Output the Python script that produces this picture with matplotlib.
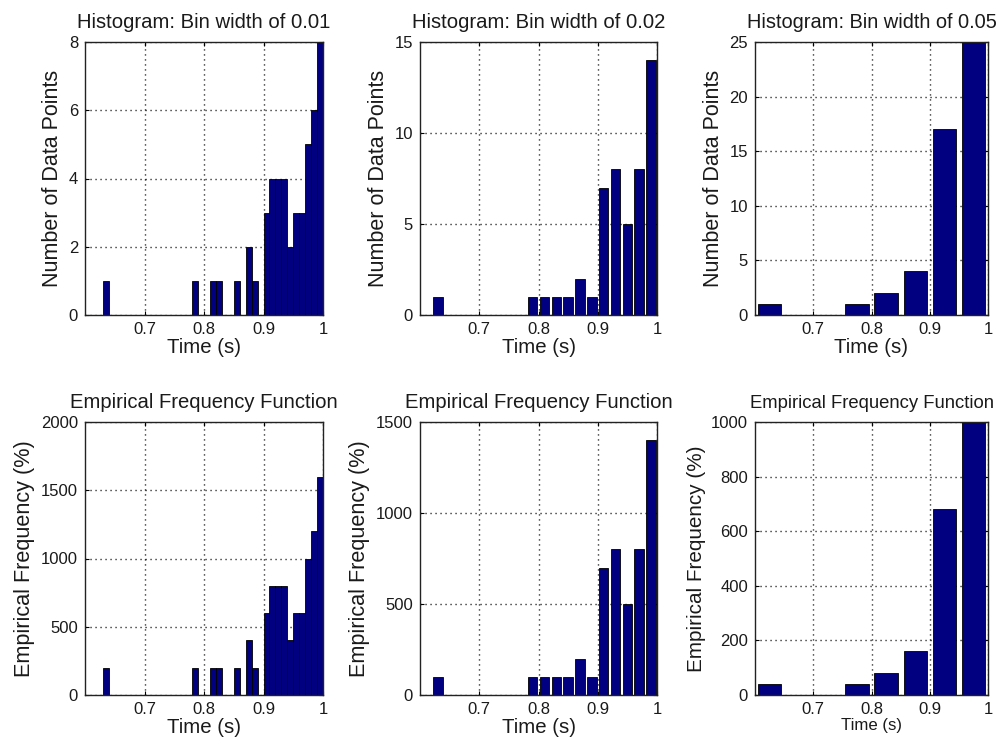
import matplotlib
matplotlib.use("Agg")
import matplotlib.pyplot as plt

plt.rcParams['font.family'] = ['Liberation Sans', 'DejaVu Sans']

# ---- data ----
centers_01 = [0.635, 0.785, 0.815, 0.825, 0.855, 0.875, 0.885, 0.905, 0.915, 0.925,
              0.935, 0.945, 0.955, 0.965, 0.975, 0.985, 0.995]
counts_01 = [1, 1, 1, 1, 1, 2, 1, 3, 4, 4, 4, 2, 3, 3, 5, 6, 8]
freq_01 = [200, 200, 200, 200, 200, 400, 200, 600, 800, 800, 800, 400, 600, 600,
           1000, 1200, 1600]

centers_02 = [0.63, 0.79, 0.81, 0.83, 0.85, 0.87, 0.89, 0.91, 0.93, 0.95, 0.97, 0.99]
counts_02 = [1, 1, 1, 1, 1, 2, 1, 7, 8, 5, 8, 14]
freq_02 = [100, 100, 100, 100, 100, 200, 100, 700, 800, 500, 800, 1400]

centers_05 = [0.625, 0.775, 0.825, 0.875, 0.925, 0.975]
counts_05 = [1, 1, 2, 4, 17, 25]
freq_05 = [40, 40, 80, 160, 680, 1000]

xticks = [0.7, 0.8, 0.9, 1.0]
xtick_labels = ['0.7', '0.8', '0.9', '1']

titles_top = ['Histogram: Bin width of 0.01', 'Histogram: Bin width of 0.02',
              'Histogram: Bin width of 0.05']
title_bottom = 'Empirical Frequency Function'

W, H = 1001, 749
fig = plt.figure(figsize=(W / 100, H / 100), dpi=100)
fig.patch.set_facecolor('white')


def make_ax(left, top, right, bottom):
    return fig.add_axes([left / W, (H - bottom) / H, (right - left) / W, (bottom - top) / H])


BAR = '#000080'
TXT = '#1a1a1a'


def style(ax, ylim, yticks, title, ylabel, tsize, lsize, ysize):
    ax.set_xlim(0.6, 1.0)
    ax.set_ylim(*ylim)
    ax.set_xticks(xticks)
    ax.set_xticklabels(xtick_labels)
    ax.set_yticks(yticks)
    ax.set_yticklabels([str(v) for v in yticks])
    ax.set_axisbelow(True)
    ax.grid(True, color='black', linestyle=(0, (0.8, 2.8)), linewidth=1.0)
    ax.tick_params(direction='in', length=3, width=0.8, top=True, right=True,
                   labelsize=12, pad=5, colors='black', labelcolor=TXT)
    for s in ax.spines.values():
        s.set_color('#222222')
        s.set_linewidth(1.0)
    ax.set_title(title, fontsize=tsize, pad=10, color=TXT)
    ax.set_xlabel('Time (s)', fontsize=lsize, labelpad=1, color=TXT)
    ax.set_ylabel(ylabel, fontsize=ysize, labelpad=4, color=TXT)


# top row
ax1 = make_ax(85, 42, 323, 315)
ax1.bar(centers_01, counts_01, width=0.01, color=BAR, edgecolor='black', linewidth=0.6)
style(ax1, (0, 8), [0, 2, 4, 6, 8], titles_top[0], 'Number of Data Points', 14.6, 14.7, 15.5)

ax2 = make_ax(420, 42, 657, 315)
ax2.bar(centers_02, counts_02, width=0.016, color=BAR, edgecolor='black', linewidth=0.6)
style(ax2, (0, 15), [0, 5, 10, 15], titles_top[1], 'Number of Data Points', 14.6, 14.7, 15.5)

ax3 = make_ax(755, 42, 988, 315)
ax3.bar(centers_05, counts_05, width=0.04, color=BAR, edgecolor='black', linewidth=0.6)
style(ax3, (0, 25), [0, 5, 10, 15, 20, 25], titles_top[2], 'Number of Data Points', 14.4, 14.7, 15.5)

# bottom row
ax4 = make_ax(85, 422, 323, 695)
ax4.bar(centers_01, freq_01, width=0.01, color=BAR, edgecolor='black', linewidth=0.6)
style(ax4, (0, 2000), [0, 500, 1000, 1500, 2000], title_bottom, 'Empirical Frequency (%)',
      14.6, 14.7, 15.6)

ax5 = make_ax(420, 422, 657, 695)
ax5.bar(centers_02, freq_02, width=0.016, color=BAR, edgecolor='black', linewidth=0.6)
style(ax5, (0, 1500), [0, 500, 1000, 1500], title_bottom, 'Empirical Frequency (%)',
      14.6, 14.7, 15.6)

ax6 = make_ax(755, 422, 988, 695)
ax6.bar(centers_05, freq_05, width=0.04, color=BAR, edgecolor='black', linewidth=0.6)
style(ax6, (0, 1000), [0, 200, 400, 600, 800, 1000], title_bottom, 'Empirical Frequency (%)',
      13.3, 12.1, 14.9)

fig.savefig('out.png', dpi=100, facecolor='white')
